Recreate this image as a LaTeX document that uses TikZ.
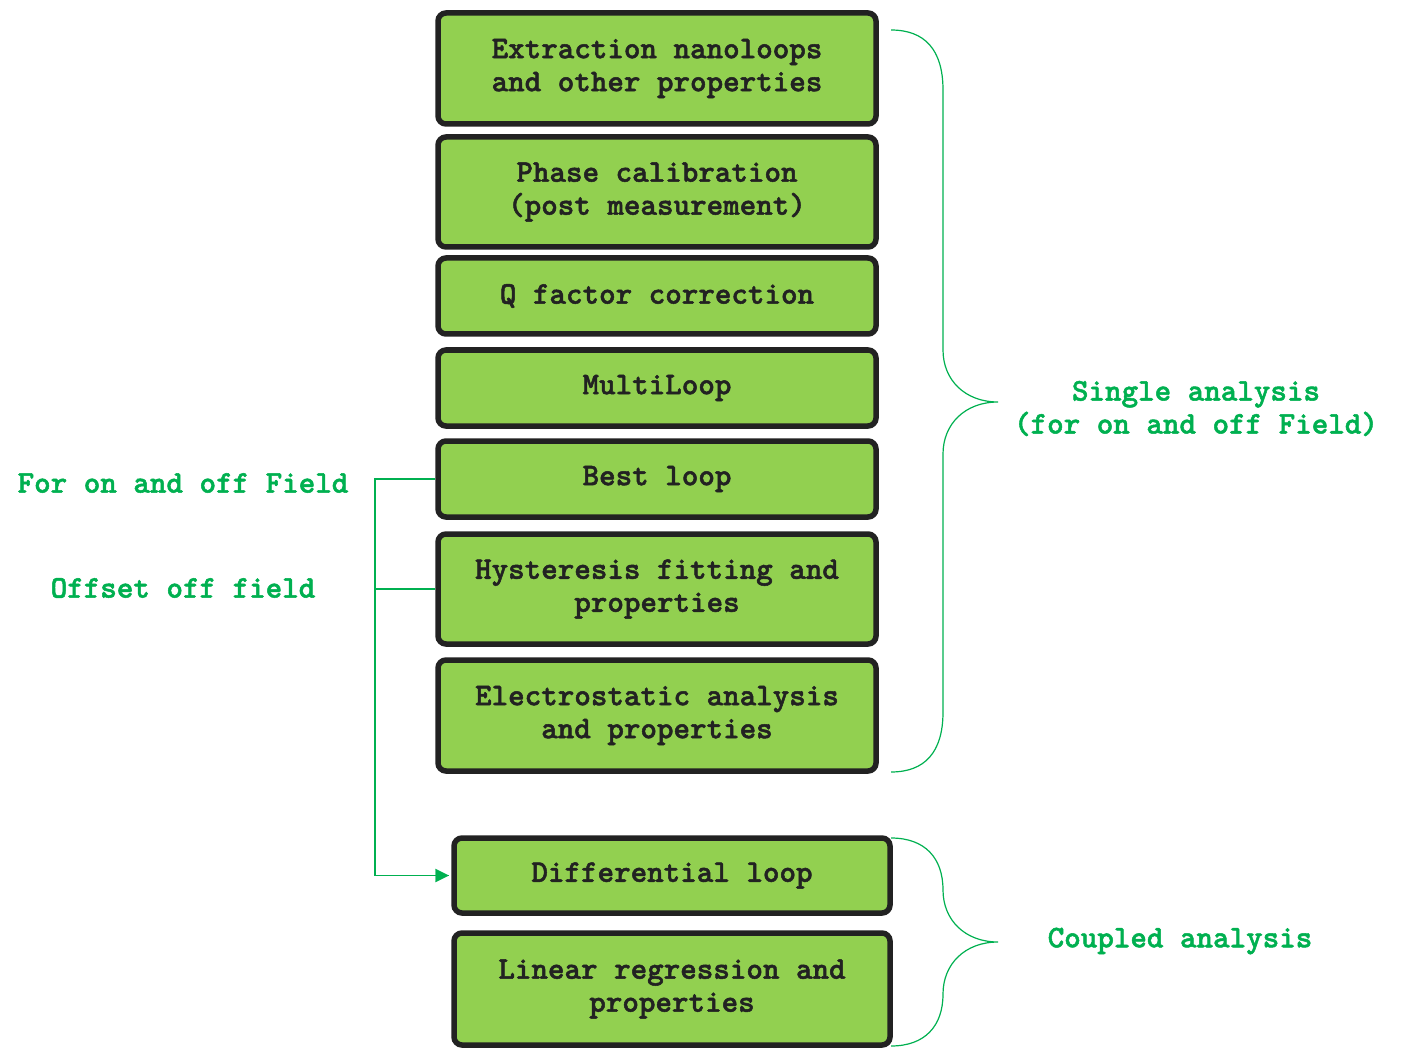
\documentclass[tikz,border=0pt]{standalone}
\usepackage{fontspec}
\usetikzlibrary{arrows.meta}
\definecolor{boxfill}{HTML}{92D050}
\definecolor{boxline}{HTML}{222222}
\definecolor{grn}{HTML}{00B050}
\newfontfamily\courbold{lmmonolt10-bold.otf}[FakeBold=1.6]
\newcommand{\boxfont}{\courbold\fontsize{31.5}{33}\selectfont}
\begin{document}
\begin{tikzpicture}[x=1pt,y=-1pt,
  stepbox/.style={draw=boxline, fill=boxfill, line width=5.5pt, rounded corners=8pt,
    minimum width=438pt, text=boxline, align=center, inner sep=0pt,
    font=\boxfont},
  lbl/.style={text=grn, align=center, inner sep=0pt,
    font=\boxfont},
  gline/.style={draw=grn, line width=1.2pt}]
\useasboundingbox (0,0) rectangle (1402,1064);
\node[stepbox, minimum height=111pt] (b1) at (657,68.5) {Extraction nanoloops\\and other properties};
\node[stepbox, minimum height=110pt] (b2) at (657,192) {Phase calibration\\(post measurement)};
\node[stepbox, minimum height=76pt] (b3) at (657,296) {Q factor correction};
\node[stepbox, minimum height=76pt] (b4) at (657,388) {MultiLoop};
\node[stepbox, minimum height=76pt] (b5) at (657,479) {Best loop};
\node[stepbox, minimum height=110pt] (b6) at (657,589) {Hysteresis fitting and\\properties};
\node[stepbox, minimum height=111pt] (b7) at (657,715.5) {Electrostatic analysis\\and properties};
\node[stepbox, minimum width=436pt, minimum height=75pt] (b8) at (672,875.5) {Differential loop};
\node[stepbox, minimum width=436pt, minimum height=112pt] (b9) at (672,989) {Linear regression and\\properties};

\node[lbl] (l1) at (183,483) {For on and off Field};
\node[lbl] (l2) at (183,588) {Offset off field};
\node[lbl] (l3) at (1196,408.5) {Single analysis\\(for on and off Field)};
\node[lbl] (l4) at (1180,941) {Coupled analysis};

\coordinate (jx) at (375,0);
\draw[gline] (b5.west) -- (b5.west -| jx) -- (b8.west -| jx)
  -- ([xshift=-2.75pt]b8.west);
\draw[grn, fill=grn] ([xshift=-2.75pt]b8.west) -- ++(-13,-6.5) -- ++(0,13) -- cycle;
\draw[gline] (b6.west) -- (b6.west -| jx);

% braces
\draw[gline] (891,30) .. controls (925,30) and (943,50) .. (943,90)
  -- (943,350) .. controls (943,380) and (965,402) .. (998,402)
  .. controls (965,402) and (943,424) .. (943,454)
  -- (943,712) .. controls (943,752) and (925,772) .. (891,772);
\draw[gline] (891,838) .. controls (925,838) and (943,858) .. (943,890)
  .. controls (943,920) and (965,942) .. (998,942)
  .. controls (965,942) and (943,964) .. (943,994)
  .. controls (943,1026) and (925,1046) .. (891,1046);
\end{tikzpicture}
\end{document}
